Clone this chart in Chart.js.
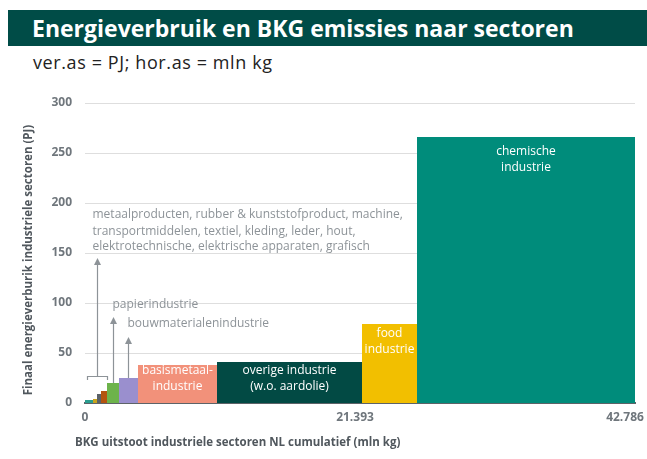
<!DOCTYPE html>
<html><head><meta charset="utf-8">
<script src="https://cdn.jsdelivr.net/npm/chart.js@4.4.1/dist/chart.umd.min.js"></script>
<style>
html,body{margin:0;padding:0;background:#fff;width:647px;height:459px;overflow:hidden;font-family:"Open Sans",sans-serif}
#band{position:absolute;left:8px;top:10px;width:639px;height:36px;background:#004c47}
#title{position:absolute;left:32px;top:10px;height:36px;line-height:36px;color:#fff;font-weight:700;font-size:23px;white-space:nowrap}
#sub{position:absolute;left:33px;top:51px;font-size:18px;letter-spacing:0.6px;color:#222;line-height:22px;white-space:nowrap}
#wrap{position:absolute;left:0;top:0;width:647px;height:459px}
</style></head>
<body>
<div id="band"></div>
<div id="title">Energieverbruik en BKG emissies naar sectoren</div>
<div id="sub">ver.as = PJ; hor.as = mln kg</div>
<div id="wrap"><canvas id="c" width="647" height="459"></canvas></div>
<script>
// ---- data ----
const sectors = ['metaal/rubber/kunststof', 'machine/transportmiddelen', 'textiel/kleding/leder/hout', 'elektrotechnisch/grafisch',
  'papierindustrie', 'bouwmaterialenindustrie', 'basismetaalindustrie', 'overige industrie', 'food industrie', 'chemische industrie'];
const emissions = [634, 317, 317, 475, 951, 1505, 6259, 11489, 4358, 17272]; // mln kg (bar widths)
const energy = [3, 4, 9, 12, 20, 25, 38, 41, 79, 266]; // PJ (bar heights)
const colors = ['#2a9d8f', '#c9a31c', '#5b6167', '#b4540f', '#6db34b', '#9a8fce', '#f2917a', '#024a44', '#f2bf00', '#008c7b'];
const barLabels = [null, null, null, null, null, null, ['basismetaal-', 'industrie'], ['overige industrie', '(w.o. aardolie)'], ['food', 'industrie'], ['chemische', 'industrie']];
const labelOffsets = [0, 0, 0, 0, 0, 0, 6, 9, 10, 15];
const xTickValues = [0, 21393, 42786];
const yTickValues = [0, 50, 100, 150, 200, 250, 300];
const groupText = ['metaalproducten, rubber & kunststofproduct, machine,', 'transportmiddelen, textiel, kleding, leder, hout,', 'elektrotechnische, elektrische apparaten, grafisch'];
const groupTextY = [188, 171, 156];   // PJ
const groupArrowTip = 145;            // PJ
const papierArrowTip = 86, papierTextY = 98;
const bouwArrowTip = 66, bouwTextY = 79;

// ---- build ----
const starts = [];
let acc = 0;
emissions.forEach(w => { starts.push(acc); acc += w; });
const total = acc;

const datasets = sectors.map((s, i) => {
  const x0 = starts[i], x1 = starts[i] + emissions[i], h = energy[i];
  return {
    label: s,
    data: [{x: x0, y: 0}, {x: x0, y: h}, {x: x1, y: h}, {x: x1, y: 0}],
    fill: 'origin',
    backgroundColor: colors[i],
    borderColor: colors[i],
    borderWidth: 0,
    pointRadius: 0,
    pointHoverRadius: 0,
    tension: 0
  };
});

function fmt(v) { return String(v).replace(/\B(?=(\d{3})+(?!\d))/g, '.'); }

const tickColor = '#6f767c';
const titleColor = '#50575d';
const annColor = '#8d9398';

const custom = {
  id: 'custom',
  afterDatasetsDraw(chart) {
    const {ctx} = chart;
    const x = chart.scales.x, y = chart.scales.y;
    ctx.save();
    // bar labels
    ctx.fillStyle = '#ffffff';
    ctx.font = '12px "Open Sans"';
    ctx.textAlign = 'center';
    ctx.textBaseline = 'middle';
    barLabels.forEach((lines, i) => {
      if (!lines) return;
      const cx = x.getPixelForValue(starts[i] + emissions[i] / 2);
      const top = y.getPixelForValue(energy[i]);
      lines.forEach((t, k) => ctx.fillText(t, cx, top + labelOffsets[i] + k * 16));
    });
    // annotations
    ctx.strokeStyle = annColor;
    ctx.fillStyle = annColor;
    ctx.lineWidth = 1.2;
    const arrow = (px, yFrom, yTip) => {
      ctx.beginPath();
      ctx.moveTo(px, yFrom);
      ctx.lineTo(px, yTip + 5);
      ctx.stroke();
      ctx.beginPath();
      ctx.moveTo(px, yTip);
      ctx.lineTo(px - 3.5, yTip + 7);
      ctx.lineTo(px + 3.5, yTip + 7);
      ctx.closePath();
      ctx.fill();
    };
    // bracket over the four small sectors
    const gEnd = starts[4];
    const bl = x.getPixelForValue(0) + 2.5, br = x.getPixelForValue(gEnd) + 0.5;
    const bTop = Math.round(y.getPixelForValue(27)) + 0.5, bLeg = y.getPixelForValue(23);
    ctx.beginPath();
    ctx.moveTo(bl, bLeg); ctx.lineTo(bl, bTop); ctx.lineTo(br, bTop); ctx.lineTo(br, bLeg);
    ctx.stroke();
    const gx = Math.round((bl + br) / 2) + 0.5;
    arrow(gx, bTop, y.getPixelForValue(groupArrowTip));
    const px = Math.round(x.getPixelForValue(starts[4] + emissions[4] / 2)) + 0.5;
    arrow(px, y.getPixelForValue(energy[4]), y.getPixelForValue(papierArrowTip));
    const bx = Math.round(x.getPixelForValue(starts[5] + emissions[5] / 2)) + 0.5;
    arrow(bx, y.getPixelForValue(energy[5]), y.getPixelForValue(bouwArrowTip));
    // annotation texts
    ctx.font = '12px "Open Sans"';
    ctx.textAlign = 'left';
    ctx.textBaseline = 'middle';
    groupText.forEach((t, k) => ctx.fillText(t, gx - 5, y.getPixelForValue(groupTextY[k])));
    ctx.fillText('papierindustrie', px - 1, y.getPixelForValue(papierTextY));
    ctx.fillText('bouwmaterialenindustrie', bx - 1, y.getPixelForValue(bouwTextY));
    // x tick labels
    ctx.fillStyle = tickColor;
    ctx.font = 'bold 12px "Open Sans"';
    ctx.textAlign = 'center';
    xTickValues.forEach(v => ctx.fillText(fmt(v), x.getPixelForValue(v), 418));
    // axis titles
    ctx.fillStyle = titleColor;
    ctx.font = 'bold 11.5px "Open Sans"';
    ctx.textAlign = 'left';
    ctx.fillText('BKG uitstoot industriele sectoren NL cumulatief (mln kg)', 75, 443);
    ctx.translate(29, 260);
    ctx.rotate(-Math.PI / 2);
    ctx.textAlign = 'center';
    ctx.fillText('Finaal energieverburik industriele sectoren (PJ)', 0, 0);
    ctx.restore();
  }
};

new Chart(document.getElementById('c'), {
  type: 'line',
  data: {datasets},
  plugins: [custom],
  options: {
    responsive: false,
    animation: false,
    events: [],
    layout: {padding: {top: 103, right: 12, left: 0, bottom: 0}},
    plugins: {legend: {display: false}, tooltip: {enabled: false}},
    scales: {
      x: {
        type: 'linear', min: 0, max: total,
        grid: {display: false, drawTicks: false},
        border: {display: true, color: '#5d6368', width: 2},
        ticks: {display: false},
        afterFit: s => { s.height = 56; }
      },
      y: {
        type: 'linear', min: 0, max: 300,
        afterBuildTicks: s => { s.ticks = yTickValues.map(v => ({value: v})); },
        grid: {color: '#dedede', lineWidth: 1, drawTicks: false},
        border: {display: false},
        ticks: {color: tickColor, font: {family: '"Open Sans"', size: 12, weight: 'bold'}, padding: 13},
        afterFit: s => { s.width = 85; }
      }
    }
  }
});
</script>
</body></html>
